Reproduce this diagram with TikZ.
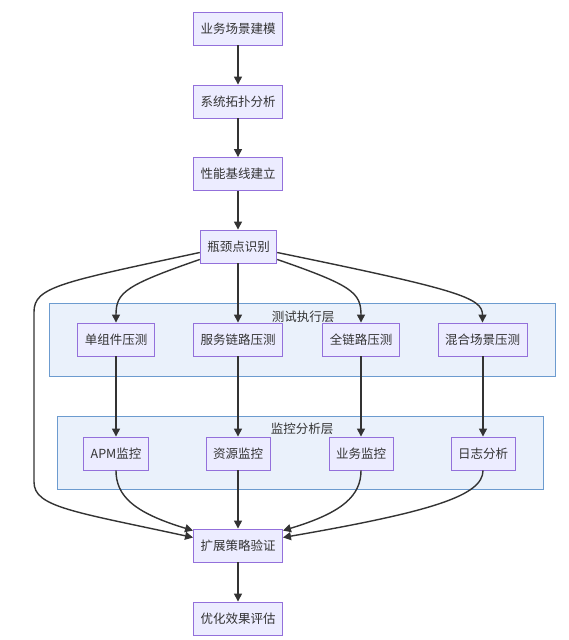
\documentclass[tikz,border=0pt]{standalone}
\usepackage{fontspec}
\usepackage{xcolor}
\usepackage{tikz}
\usetikzlibrary{arrows.meta,positioning,calc}
\newfontfamily\cjk{Noto Sans CJK SC}
\definecolor{nodoFill}{HTML}{ECECFF}
\definecolor{nodoLine}{HTML}{9370DB}
\definecolor{capaFill}{HTML}{EAF1FB}
\definecolor{capaLine}{HTML}{6C9BCF}
\definecolor{tinta}{HTML}{333333}
\tikzset{
  nodo/.style={draw=nodoLine, line width=0.9pt, fill=nodoFill, align=center, text=tinta, font=\cjk\fontsize{12.5}{15}\selectfont, minimum height=33pt, inner xsep=7pt},
  capa/.style={draw=capaLine, line width=0.9pt, fill=capaFill, minimum height=73pt},
  rotulo/.style={text=tinta, font=\cjk\fontsize{12.5}{15}\selectfont, inner sep=0pt},
  arrflow/.style={-{Triangle[length=8pt,width=8pt]}, line width=1.4pt, draw=tinta},
}
\begin{document}
\begin{tikzpicture}[x=1pt, y=-1pt]
\useasboundingbox[fill=white] (0,0) rectangle (569,640);
% capas
\node[capa, minimum width=505.5pt] (ejec) at (302.25,339.5) {};
\node[capa, minimum width=486pt] (moni) at (300,452.5) {};
\node[rotulo] (ejecT) at (303,316.5) {测试执行层};
\node[rotulo] (moniT) at (302,429) {监控分析层};
% columna principal
\node[nodo] (m1) at (238,28.5) {业务场景建模};
\node[nodo] (m2) at (238,101.5) {系统拓扑分析};
\node[nodo] (m3) at (238,174) {性能基线建立};
\node[nodo] (m4) at (238.5,246.5) {瓶颈点识别};
% pruebas
\node[nodo] (t1) at (116,339.5) {单组件压测};
\node[nodo] (t2) at (238,339.5) {服务链路压测};
\node[nodo] (t3) at (361,339.5) {全链路压测};
\node[nodo] (t4) at (482.5,339.5) {混合场景压测};
% monitoreo
\node[nodo] (k1) at (116,453.5) {APM监控};
\node[nodo] (k2) at (238,453.5) {资源监控};
\node[nodo] (k3) at (361,453.5) {业务监控};
\node[nodo] (k4) at (483,453.5) {日志分析};
% cierre
\node[nodo] (v) at (238,545.5) {扩展策略验证};
\node[nodo] (e) at (238,618.5) {优化效果评估};
\coordinate (izq1) at (34,312);
\coordinate (izq2) at (34,482);
% flechas
\draw[arrflow] (m1) -- (m2);
\draw[arrflow] (m2) -- (m3);
\draw[arrflow] (m3.south) -- (m3.south |- m4.north);
\draw[arrflow] ($(m4.south west)+(0,-4)$) .. controls +(-75,26) and +(0,-30) .. (t1.north);
\draw[arrflow] (m4.south -| t2) -- (t2.north);
\draw[arrflow] ($(m4.south east)+(0,-4)$) .. controls +(75,26) and +(0,-30) .. (t3.north);
\draw[arrflow] ($(m4.east)+(0,6)$) .. controls +(180,37) and +(0,-25) .. (t4.north);
\draw[arrflow] ($(m4.west)+(0,6)$) .. controls +(-140,30) and +(0,-25) .. (izq1) -- (izq2) .. controls +(0,25) and +(-120,-26) .. ($(v.west)+(0,-8)$);
\draw[arrflow] (t1) -- (k1);
\draw[arrflow] (t2) -- (k2);
\draw[arrflow] (t3) -- (k3);
\draw[arrflow] (t4.south -| k4) -- (k4.north);
\draw[arrflow] (k1.south) .. controls +(0,25) and +(-60,-18) .. ($(v.north west)+(0,2)$);
\draw[arrflow] (k2) -- (v);
\draw[arrflow] (k3.south) .. controls +(0,25) and +(60,-18) .. ($(v.north east)+(0,2)$);
\draw[arrflow] (k4.south) .. controls +(0,25) and +(150,-26) .. ($(v.east)+(0,-8)$);
\draw[arrflow] (v) -- (e);
\end{tikzpicture}
\end{document}
